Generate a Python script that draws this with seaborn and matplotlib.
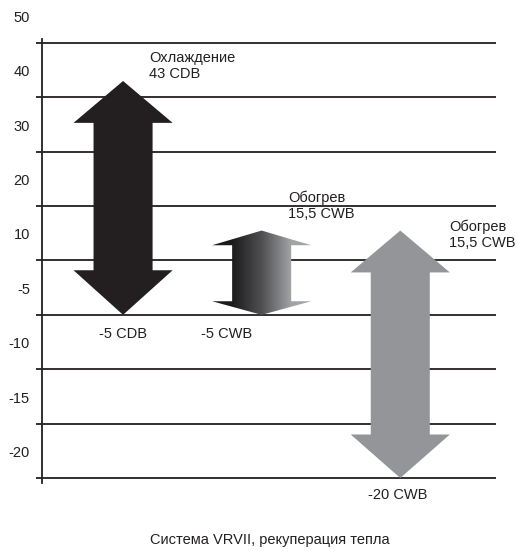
import numpy as np
import matplotlib
matplotlib.use("Agg")
import matplotlib.pyplot as plt
from matplotlib.colors import LinearSegmentedColormap
from matplotlib.patches import Polygon
import seaborn as sns

# шкала (неравномерная, как на схеме)
levels = [-20, -15, -10, -5, 10, 20, 30, 40, 50]
level_labels = ["-20", "-15", "-10", "-5", "10", "20", "30", "40", "50"]

# стрелки: верх / низ температурного диапазона
arrow_names = ["cool", "heat", "heat2"]
arrow_top = [43, 15.5, 15.5]
arrow_bottom = [-5, -5, -20]
top_labels = ["Охлаждение\n43 CDB", "Обогрев\n15,5 CWB", "Обогрев\n15,5 CWB"]
bottom_labels = ["-5 CDB", "-5 CWB", "-20 CWB"]
caption = "Система VRVII, рекуперация тепла"

sns.set_theme(style="white")
plt.rcParams['font.family'] = ['Liberation Sans', 'DejaVu Sans']

fig = plt.figure(figsize=(5.17, 5.51), dpi=100)
ax = fig.add_axes([0.0812, 0.1236, 0.878, 0.8064])

idx = np.arange(len(levels))


def pos(v):
    return np.interp(v, levels, idx)


XMIN, XMAX = 0.415, 3.69
YMIN, YMAX = -0.09, 8.08

# сетка
for i in idx:
    ax.axhline(i, color='#231f20', lw=1.3, zorder=1)

HEAD_W, SHAFT_W = 0.715, 0.426


def arrow_poly(xc, top, bot, head_top, head_bot):
    hw, sw = HEAD_W / 2, SHAFT_W / 2
    return [
        (xc, top), (xc + hw, top - head_top), (xc + sw, top - head_top),
        (xc + sw, bot + head_bot), (xc + hw, bot + head_bot), (xc, bot),
        (xc - hw, bot + head_bot), (xc - sw, bot + head_bot),
        (xc - sw, top - head_top), (xc - hw, top - head_top),
    ]


# охлаждение - черная стрелка
x1 = 1
pts = arrow_poly(x1, pos(arrow_top[0]), pos(arrow_bottom[0]), 0.77, 0.82)
ax.add_patch(Polygon(pts, closed=True, fc='#231f20', ec='none', zorder=3))

# обогрев - серая стрелка
x3 = 3
pts = arrow_poly(x3, pos(arrow_top[2]), pos(arrow_bottom[2]), 0.77, 0.80)
ax.add_patch(Polygon(pts, closed=True, fc='#939598', ec='none', zorder=3))

# обогрев - стрелка с градиентом
x2 = 2
t2, b2 = pos(arrow_top[1]), pos(arrow_bottom[1])
pts = arrow_poly(x2, t2, b2, 0.27, 0.25)
clip = Polygon(pts, closed=True, fc='none', ec='none', transform=ax.transData)
ax.add_patch(clip)
gx = np.linspace(x2 - HEAD_W / 2, x2 + HEAD_W / 2, 300)
grad = np.clip((gx - (x2 - SHAFT_W / 2)) / SHAFT_W, 0, 1)
cmap = LinearSegmentedColormap.from_list('g', ['#1c1a1b', '#505052', '#a2a4a7'])
im = ax.imshow(grad[np.newaxis, :], cmap=cmap, aspect='auto', origin='lower',
               extent=[x2 - HEAD_W / 2, x2 + HEAD_W / 2, b2, t2], zorder=3,
               interpolation='bilinear')
im.set_clip_path(clip)

# подписи
fs = 10.5
ax.text(1.19, 7.86, top_labels[0], ha='left', va='top', fontsize=fs,
        color='#231f20', linespacing=1.2)
ax.text(2.19, 5.29, top_labels[1], ha='left', va='top', fontsize=fs,
        color='#231f20', linespacing=1.2)
ax.text(3.35, 4.76, top_labels[2], ha='left', va='top', fontsize=fs,
        color='#231f20', linespacing=1.2)
ax.text(x1, pos(arrow_bottom[0]) - 0.35, bottom_labels[0], ha='center', va='center',
        fontsize=fs, color='#231f20')
ax.text(1.75, pos(arrow_bottom[1]) - 0.35, bottom_labels[1], ha='center', va='center',
        fontsize=fs, color='#231f20')
ax.text(2.98, pos(arrow_bottom[2]) - 0.32, bottom_labels[2], ha='center', va='center',
        fontsize=fs, color='#231f20')

# ось Y: метки над линиями сетки
ax.set_yticks(idx)
ax.set_yticklabels([])
ax.tick_params(axis='y', which='major', left=True, length=4, width=1.3,
               color='#231f20', direction='out')
ax.set_xticks([])
ytr = ax.get_yaxis_transform()
for i, lab in zip(idx, level_labels):
    ax.text(-0.0264, i + 0.46, lab, transform=ytr, ha='right', va='center',
            fontsize=fs, color='#231f20', clip_on=False)

ax.set_xlim(XMIN, XMAX)
ax.set_ylim(YMIN, YMAX)

sns.despine(ax=ax, left=False, bottom=True, right=True, top=True)
ax.spines['left'].set_color('#231f20')
ax.spines['left'].set_linewidth(1.3)

fig.text(270 / 517, 1 - 540 / 551, caption, ha='center', va='center',
         fontsize=fs, color='#231f20')

fig.savefig('out.png', dpi=100)
